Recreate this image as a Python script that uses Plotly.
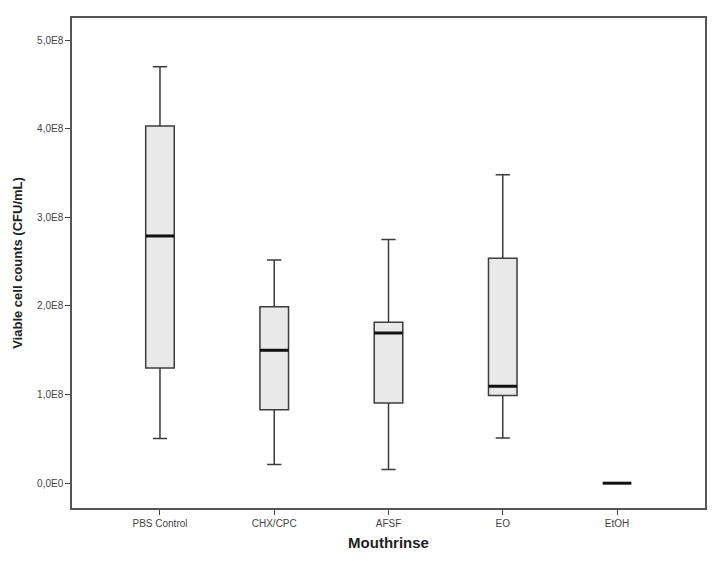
import plotly.graph_objects as go

# mouthrinse groups and box statistics (CFU/mL)
groups = ["PBS Control", "CHX/CPC", "AFSF", "EO", "EtOH"]
upper = [4.70e8, 2.52e8, 2.75e8, 3.48e8, 0.0]
q3 = [4.03e8, 1.99e8, 1.815e8, 2.54e8, 0.0]
median = [2.79e8, 1.50e8, 1.695e8, 1.094e8, 0.0]
q1 = [1.30e8, 0.83e8, 0.905e8, 0.99e8, 0.0]
lower = [0.504e8, 0.21e8, 0.154e8, 0.51e8, 0.0]

ytick_vals = [0, 1e8, 2e8, 3e8, 4e8, 5e8]
ytick_text = ["0,0E0", "1,0E8", "2,0E8", "3,0E8", "4,0E8", "5,0E8"]

xpos = list(range(len(groups)))
box_w = 0.25

fig = go.Figure()

fig.add_trace(
    go.Box(
        x=xpos,
        q1=q1,
        median=median,
        q3=q3,
        lowerfence=lower,
        upperfence=upper,
        width=box_w,
        whiskerwidth=0.5,
        fillcolor="#e9e9e9",
        line=dict(color="#3c3c3c", width=1.5),
        boxpoints=False,
        hoverinfo="skip",
        showlegend=False,
    )
)

# thicker median lines like the SPSS output
mx, my = [], []
for i, m in zip(xpos, median):
    mx += [i - box_w / 2, i + box_w / 2, None]
    my += [m, m, None]
fig.add_trace(
    go.Scatter(
        x=mx,
        y=my,
        mode="lines",
        line=dict(color="#111111", width=3),
        hoverinfo="skip",
        showlegend=False,
    )
)

# page body adds an 8px margin, so the figure is a bit smaller than the window
fig.update_layout(
    width=707,
    height=553,
    margin=dict(l=61, r=9, t=8, b=53),
    paper_bgcolor="white",
    plot_bgcolor="white",
    font=dict(family="Liberation Sans, Arial, sans-serif", color="#333333"),
)

fig.update_xaxes(
    range=[-0.77, 4.77],
    tickvals=xpos,
    ticktext=groups,
    tickfont=dict(size=10, color="#444444"),
    ticks="outside",
    ticklen=5,
    tickcolor="#444444",
    showgrid=False,
    zeroline=False,
    showline=True,
    mirror=True,
    linecolor="#555555",
    linewidth=1.5,
    title=dict(
        text="<b>Mouthrinse</b>",
        font=dict(size=15, color="#222222"),
        standoff=10,
    ),
)

fig.update_yaxes(
    range=[-0.28e8, 5.25e8],
    tickvals=ytick_vals,
    ticktext=ytick_text,
    tickfont=dict(size=10, color="#444444"),
    ticks="outside",
    ticklen=5,
    tickcolor="#444444",
    showgrid=False,
    zeroline=False,
    showline=True,
    mirror=True,
    linecolor="#555555",
    linewidth=1.5,
    title=dict(
        text="<b>Viable cell counts (CFU/mL)</b>",
        font=dict(size=13, color="#222222"),
        standoff=12,
    ),
)

fig.write_html("out.html")
